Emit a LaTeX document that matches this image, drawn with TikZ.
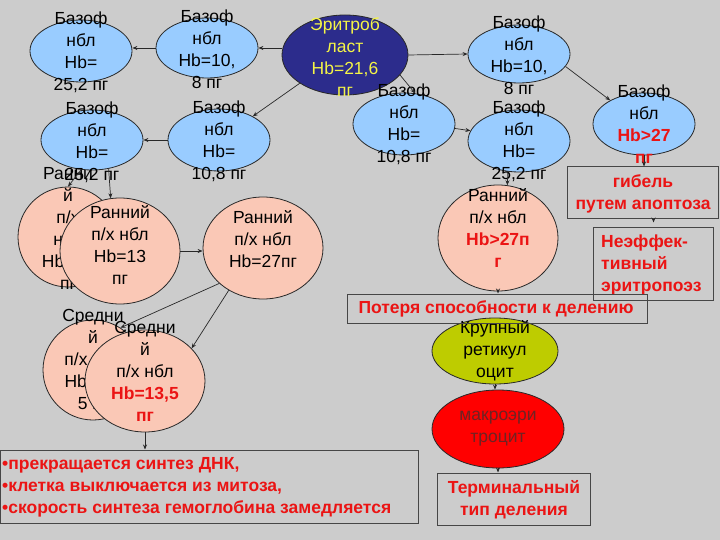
\documentclass[tikz,border=0pt]{standalone}
\usepackage{fontspec}
\setmainfont{Liberation Sans}
\usetikzlibrary{shapes.geometric,arrows.meta,calc}
\definecolor{bg}{RGB}{204,204,204}
\definecolor{blu}{RGB}{153,204,255}
\definecolor{navyc}{RGB}{44,44,140}
\definecolor{pinkc}{RGB}{250,200,182}
\definecolor{ygreen}{RGB}{190,204,0}
\definecolor{rd}{RGB}{235,20,20}
\definecolor{yel}{RGB}{245,245,70}
\definecolor{edgec}{RGB}{40,40,40}
\definecolor{boxline}{RGB}{70,70,70}
\definecolor{maroonc}{RGB}{110,35,35}
\newcommand\redb[1]{\textcolor{rd}{\bfseries #1}}
\begin{document}
\begin{tikzpicture}[x=1pt,y=-1pt,
  el/.style n args={3}{ellipse, draw=edgec, line width=0.8pt, fill=#3,
     minimum width=#1pt, minimum height=#2pt, inner sep=0pt},
  tx/.style={inner sep=0pt, align=center, font=\fontsize{17.5}{22}\selectfont},
  rtx/.style={inner sep=0pt, text=rd, font=\bfseries\fontsize{17.5}{22}\selectfont},
  bx/.style={draw=boxline, line width=1pt, inner sep=0pt},
  arr/.style={draw=edgec, line width=0.7pt, -{Stealth[length=5pt,width=4pt]}}]
\useasboundingbox (0,0) rectangle (720,540);
\fill[bg] (0,0) rectangle (720,540);

% top row
\node[el={102}{62}{blu}] (A) at (81,51) {};
\node[tx] (tA) at ($(A)+(0,1)$) {Базоф\\нбл\\Hb=\\25,2 пг};
\node[el={102}{60}{blu}] (B) at (207,48) {};
\node[tx] (tB) at ($(B)+(0,1)$) {Базоф\\нбл\\Hb=10,\\8 пг};
\node[el={126}{80}{navyc}] (ery) at (345,55) {};
\node[tx,text=yel] (tery) at ($(ery)+(0,2)$) {Эритроб\\ласт\\Hb=21,6\\пг};
\node[el={102}{58}{blu}] (C) at (519,54) {};
\node[tx] (tC) at ($(C)+(0,1)$) {Базоф\\нбл\\Hb=10,\\8 пг};

% second row
\node[el={102}{60}{blu}] (D) at (92,140) {};
\node[tx] (tD) at ($(D)+(0,2)$) {Базоф\\нбл\\Hb=\\25,2 пг};
\node[el={102}{62}{blu}] (E) at (219,140) {};
\node[tx] (tE) at ($(E)+(0,1)$) {Базоф\\нбл\\Hb=\\10,8 пг};
\node[el={102}{62}{blu}] (F) at (404,124) {};
\node[tx] (tF) at (F) {Базоф\\нбл\\Hb=\\10,8 пг};
\node[el={102}{62}{blu}] (G) at (519,141) {};
\node[tx] (tG) at (G) {Базоф\\нбл\\Hb=\\25,2 пг};
\node[el={102}{62}{blu}] (H) at (644,124) {};
\node[tx] (tH) at (H) {Базоф\\нбл\\\redb{Hb>27}\\\redb{пг}};

% early normoblasts
\node[el={100}{100}{pinkc}] (Rb) at (68,237) {};
\node[tx] (tRb) at ($(Rb)+(0,-9)$) {Ранни\\й\\п/х\\нбл\\Hb=13\\пг};
\node[el={120}{106}{pinkc}] (Rf) at (120,251) {};
\node[tx] (tRf) at ($(Rf)+(0,-6)$) {Ранний\\п/х нбл\\Hb=13\\пг};
\node[el={120}{102}{pinkc}] (R27) at (263,248) {};
\node[tx] (tR27) at ($(R27)+(0,-9)$) {Ранний\\п/х нбл\\Hb=27пг};
\node[el={120}{106}{pinkc}] (Rr) at (498,238) {};
\node[tx] (tRr) at ($(Rr)+(0,-10)$) {Ранний\\п/х нбл\\\redb{Hb>27п}\\\redb{г}};

% middle normoblasts
\node[el={100}{100}{pinkc}] (Sb) at (93,370) {};
\node[tx] (tSb) at ($(Sb)+(0,-11)$) {Средни\\й\\п/х нбл\\Hb=13,\\5 пг};
\node[el={120}{102}{pinkc}] (Sf) at (145,381) {};
\node[tx] (tSf) at ($(Sf)+(0,-10)$) {Средни\\й\\п/х нбл\\\redb{Hb=13,5}\\\redb{пг}};

% reticulocyte and macrocyte
\node[el={126}{66}{ygreen}] (Kr) at (495,351) {};
\node[tx] (tKr) at (Kr) {Крупный\\ретикул\\оцит};
\node[el={132}{78}{red}] (Mk) at (498,429) {};
\node[tx,text=maroonc] (tMk) at (Mk) {макроэри\\троцит};

% boxes
\node[bx, minimum width=151pt, minimum height=52pt] (gib) at (642.5,193) {};
\node[rtx, align=center] (tgib) at (643,194) {гибель\\путем апоптоза};
\node[bx, minimum width=120pt, minimum height=72pt] (ne) at (653.5,264) {};
\node[rtx, align=left, anchor=west] (tne) at (601,265) {Неэффек-\\тивный\\эритропоэз};
\node[bx, minimum width=300pt, minimum height=29pt] (pot) at (497.5,308.5) {};
\node[rtx] (tpot) at (496,309) {Потеря способности к делению};
\node[bx, minimum width=418pt, minimum height=73pt] (bul) at (209,486.5) {};
\node[rtx, align=left, anchor=west] (tbul) at (2,487) {•прекращается синтез ДНК,\\•клетка выключается из митоза,\\•скорость синтеза гемоглобина замедляется};
\node[bx, minimum width=153pt, minimum height=52pt] (term) at (513.5,499) {};
\node[rtx, align=center] (tterm) at (514,500) {Терминальный\\тип деления};

% connectors
\draw[arr] (ery.west |- B.east) -- (B.east);
\draw[arr] (B.west) -- (A.east |- B.west);
\draw[arr] (ery.east) -- (C.west);
\draw[arr] (ery.212) -- (E.35);
\draw[arr] (ery.-20) -- (F.70);
\draw[arr] (C.-15) -- (H.145);
\draw[arr] (E.west) -- (D.east);
\draw[arr] (F.-5) -- (G.168);
\draw[arr] (H.south) -- (H.south |- gib.north);
\draw[arr] (gib.south -| ne.north) -- ($(gib.south -| ne.north)+(0,3)$);
\draw[arr] (G.-110) -- (Rr.80);
\draw[arr] (Rr.south) -- (Rr.south |- pot.north);
\draw[arr] (Kr.south) -- (Kr.south |- Mk.north);
\draw[arr] (Mk.south) -- (Mk.south |- term.north);
\draw[arr] (D.-110) -- (Rb.north);
\draw[arr] (D.-60) -- (Rf.100);
\draw[arr] (Rf.east) -- (Rf.east -| R27.west);
\draw[arr] (R27.219) -- (Sb.57);
\draw[arr] (R27.231) -- (Sf.35);
\draw[arr] (Sf.south) -- (Sf.south |- bul.north);
\end{tikzpicture}
\end{document}
